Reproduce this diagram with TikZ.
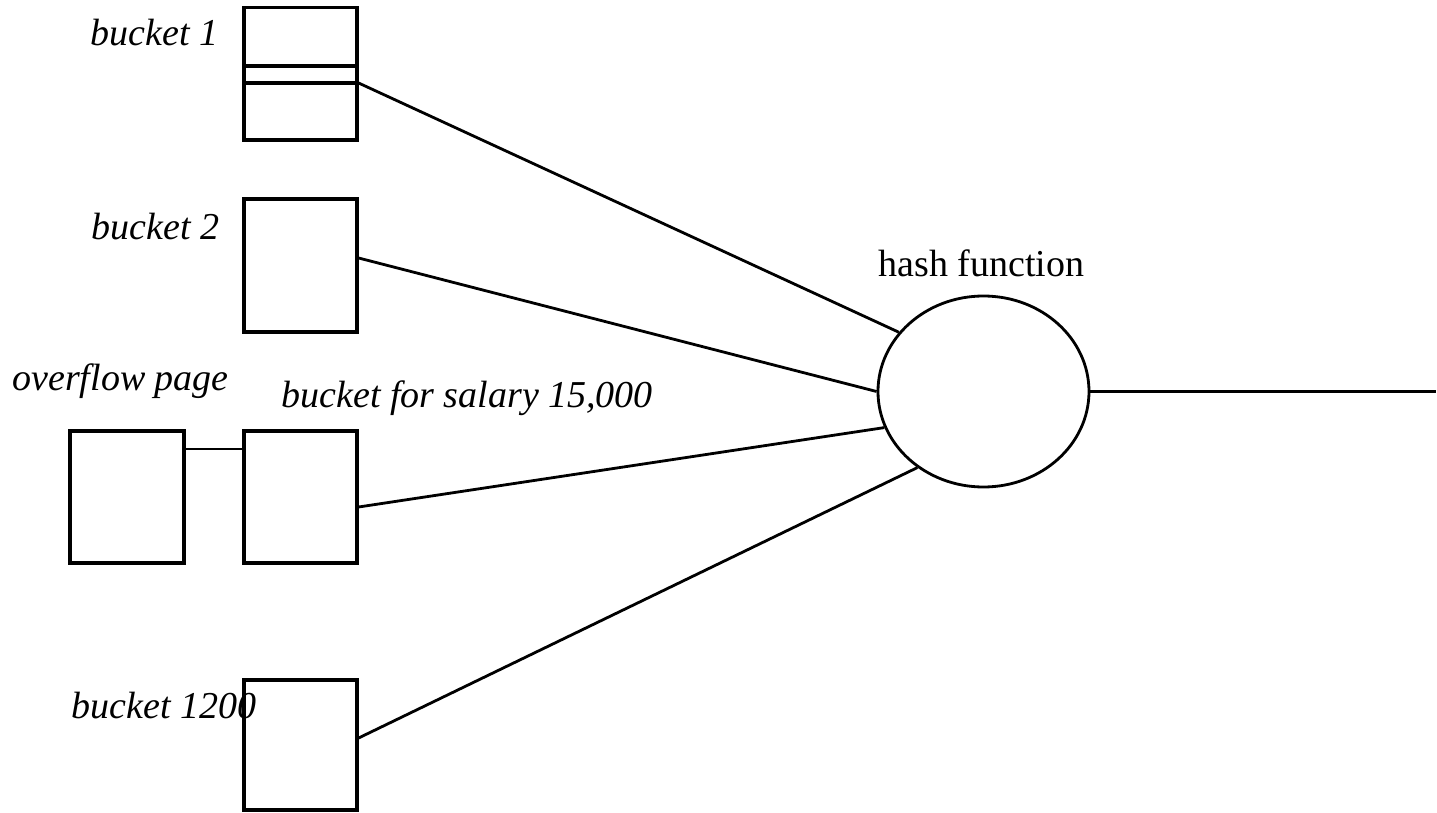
\documentclass[tikz,border=0pt]{standalone}
\usepackage{fontspec}
\setmainfont{Liberation Serif}
\usetikzlibrary{shapes.geometric}
\begin{document}
\begin{tikzpicture}[x=0.5pt,y=-0.5pt,
  page/.style={draw,line width=1.6pt,rectangle,inner sep=0pt,minimum width=56.5pt},
  link/.style={line width=1.4pt},
  lbl/.style={anchor=base west,inner sep=0pt,font=\fontsize{19}{22}\selectfont\itshape},
  hashlbl/.style={anchor=base west,inner sep=0pt,font=\fontsize{19}{22}\selectfont}]
\useasboundingbox (0,0) rectangle (1437,813);

% bucket pages
\node[page,minimum height=66.25pt] (b1) at (300.5,73.75) {};
\node[page,minimum height=66.5pt]  (b2) at (300.5,265.5) {};
\node[page,minimum height=66pt]    (b3) at (300.5,497) {};
\node[page,minimum height=65pt]    (b4) at (300.5,745) {};
\node[page,minimum height=66pt,minimum width=57pt] (ov) at (127,497) {};

% record slot inside the first bucket
\draw[line width=1.6pt] ([yshift=3.875pt]b1.west) -- ([yshift=3.875pt]b1.east);
\draw[line width=1.6pt] ([yshift=-4.625pt]b1.west) -- ([yshift=-4.625pt]b1.east);

% hash function
\node[draw,ellipse,line width=1.4pt,minimum width=105.5pt,minimum height=95.5pt,inner sep=0pt] (hash) at (983.5,391.5) {};
\coordinate (out) at (1436,391.5);

% labels
\node[lbl] (l1) at (90,46) {bucket 1};
\node[lbl] (l2) at (91,240) {bucket 2};
\node[lbl] (lov) at (12,390) {overflow page};
\node[lbl] (l3) at (281,408) {bucket for salary 15,000};
\node[lbl] (l4) at (71,718) {bucket 1200};
\node[hashlbl] (lh) at (878,277) {hash function};

% connectors
\draw[link] ([yshift=-4.625pt]b1.east) -- (hash.145.6);
\draw[link] ([yshift=3.75pt]b2.east) -- (hash.180);
\draw[link] ([yshift=-5pt]b3.east) -- (hash.200);
\draw[link] ([yshift=3.5pt]b4.east) -- (hash.229.7);
\draw[link] ([yshift=24pt]ov.east) -- ([yshift=24pt]b3.west);
\draw[link] (hash.east) -- (out);
\end{tikzpicture}
\end{document}
